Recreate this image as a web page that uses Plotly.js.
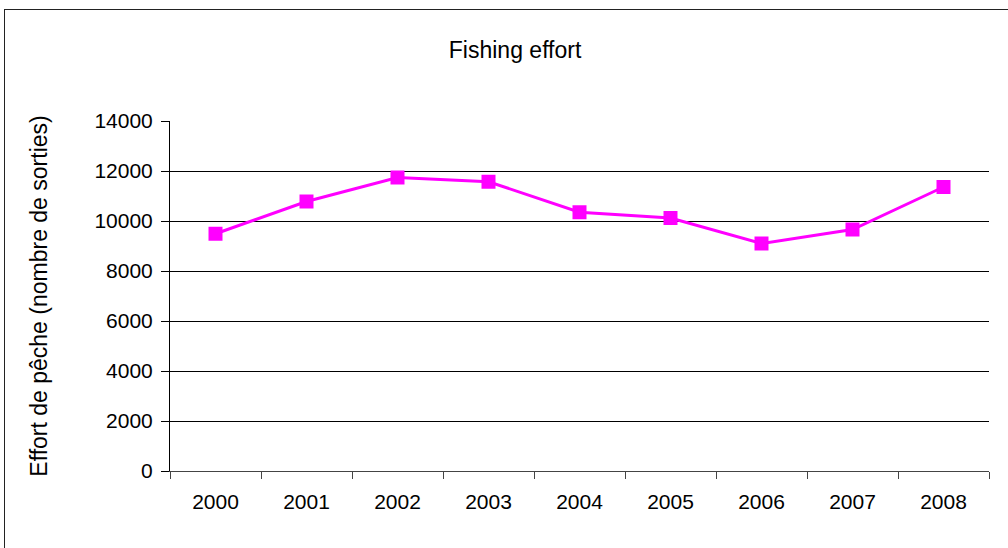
<!DOCTYPE html>
<html>
<head>
<meta charset="utf-8">
<script src="https://cdn.plot.ly/plotly-3.0.1.min.js"></script>
<style>
  html, body { margin: 0; padding: 0; background: #fff; }
  #wrap { position: relative; width: 1008px; height: 548px; overflow: hidden; }
  #chart { width: 1008px; height: 548px; }
  #frame { position: absolute; left: 4px; top: 9px; width: 1100px; height: 700px;
           border-left: 1px solid #222; border-top: 1px solid #222; pointer-events: none; }
</style>
</head>
<body>
<div id="wrap">
  <div id="chart"></div>
  <div id="frame"></div>
</div>
<script>
const years = ["2000", "2001", "2002", "2003", "2004", "2005", "2006", "2007", "2008"];
const effort = [9490, 10780, 11740, 11570, 10350, 10120, 9100, 9660, 11360];
const yTicks = [0, 2000, 4000, 6000, 8000, 10000, 12000, 14000];

const FONT = "Liberation Sans, Arial, Helvetica, sans-serif";

const trace = {
  x: years,
  y: effort,
  type: "scatter",
  mode: "lines+markers",
  line: { color: "#FF00FF", width: 3 },
  marker: { symbol: "square", size: 14, color: "#FF00FF" },
  hoverinfo: "x+y"
};

const layout = {
  width: 1008,
  height: 548,
  paper_bgcolor: "#fff",
  plot_bgcolor: "#fff",
  margin: { l: 170, r: 19, t: 121, b: 77 },
  showlegend: false,
  font: { family: FONT, color: "#000", size: 21 },
  title: {
    text: "Fishing effort",
    font: { family: FONT, size: 23, color: "#000" },
    xref: "container", yref: "container",
    x: 0.511, xanchor: "center",
    y: 0.909, yanchor: "middle"
  },
  xaxis: {
    type: "category",
    range: [-0.5, 8.5],
    tickson: "boundaries",
    ticks: "outside",
    ticklen: 7,
    tickcolor: "#444",
    showline: true,
    linecolor: "#444",
    linewidth: 1,
    showgrid: false,
    zeroline: false,
    tickfont: { family: FONT, size: 21, color: "#000" },
    ticklabelstandoff: 12,
    fixedrange: true
  },
  yaxis: {
    range: [0, 14000],
    tickvals: yTicks,
    ticktext: yTicks.map(String),
    ticks: "outside",
    ticklen: 8,
    tickcolor: "#000",
    showline: true,
    linecolor: "#000",
    linewidth: 1,
    showgrid: true,
    gridcolor: "#000",
    gridwidth: 1,
    zeroline: false,
    tickfont: { family: FONT, size: 21, color: "#000" },
    ticklabelstandoff: 4,
    title: {
      text: "Effort de pêche (nombre de sorties)",
      font: { family: FONT, size: 23, color: "#000" },
      standoff: 40
    },
    fixedrange: true
  }
};

Plotly.newPlot("chart", [trace], layout, { displayModeBar: false, staticPlot: true });
</script>
</body>
</html>
